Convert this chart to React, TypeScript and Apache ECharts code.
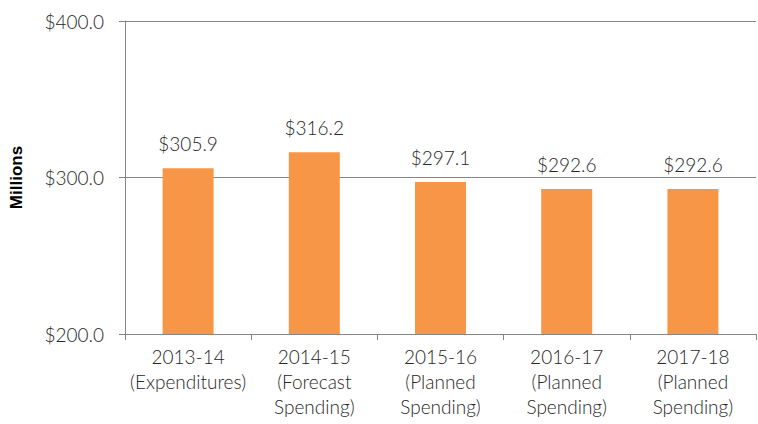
import React, { useEffect, useRef } from "react";
import * as echarts from "echarts";

const categories = [
  "2013-14\n(Expenditures)",
  "2014-15\n(Forecast\nSpending)",
  "2015-16\n(Planned\nSpending)",
  "2016-17\n(Planned\nSpending)",
  "2017-18\n(Planned\nSpending)",
];
const values = [305.9, 316.2, 297.1, 292.6, 292.6];
const yMin = 200;
const yMax = 400;
const yInterval = 100;

const FONT = "Lato, sans-serif";

export default function App() {
  const ref = useRef<HTMLDivElement>(null);
  useEffect(() => {
    if (!ref.current) return;
    const chart = echarts.init(ref.current, undefined, { renderer: "svg" });
    chart.setOption({
      animation: false,
      grid: { left: 121, right: 2, top: 21, bottom: 90, containLabel: false },
      xAxis: {
        type: "category",
        data: categories,
        axisLine: { show: true, lineStyle: { color: "#868686", width: 1 } },
        axisTick: { show: true, alignWithLabel: false, length: 6, lineStyle: { color: "#868686" } },
        axisLabel: {
          color: "#262626",
          fontFamily: FONT,
          fontSize: 19,
          fontWeight: 300,
          lineHeight: 25,
          margin: 10,
          interval: 0,
        },
      },
      yAxis: {
        type: "value",
        min: yMin,
        max: yMax,
        interval: yInterval,
        name: "Millions",
        nameLocation: "middle",
        nameGap: 100,
        nameRotate: 90,
        nameTextStyle: {
          color: "#000",
          fontFamily: "'Liberation Sans', Arial, sans-serif",
          fontSize: 17,
          fontWeight: "bold",
        },
        axisLine: { show: true, lineStyle: { color: "#868686", width: 1 } },
        axisTick: { show: true, length: 6, inside: false, lineStyle: { color: "#868686" } },
        splitLine: { show: true, lineStyle: { color: "#868686", width: 1 } },
        axisLabel: {
          color: "#262626",
          fontFamily: FONT,
          fontSize: 19,
          fontWeight: 300,
          margin: 21,
          formatter: (v: number) => "$" + v.toFixed(1),
        },
      },
      series: [
        {
          type: "bar",
          data: values,
          barWidth: 51,
          itemStyle: { color: "#F79646" },
          label: {
            show: true,
            position: "top",
            distance: 15,
            color: "#262626",
            fontFamily: FONT,
            fontSize: 19,
            fontWeight: 300,
            formatter: (p: any) => "$" + Number(p.value).toFixed(1),
          },
        },
      ],
    });
    return () => chart.dispose();
  }, []);
  return (
    <div
      ref={ref}
      style={{ position: "fixed", left: 0, top: 0, width: 758, height: 424, background: "#fff" }}
    />
  );
}
